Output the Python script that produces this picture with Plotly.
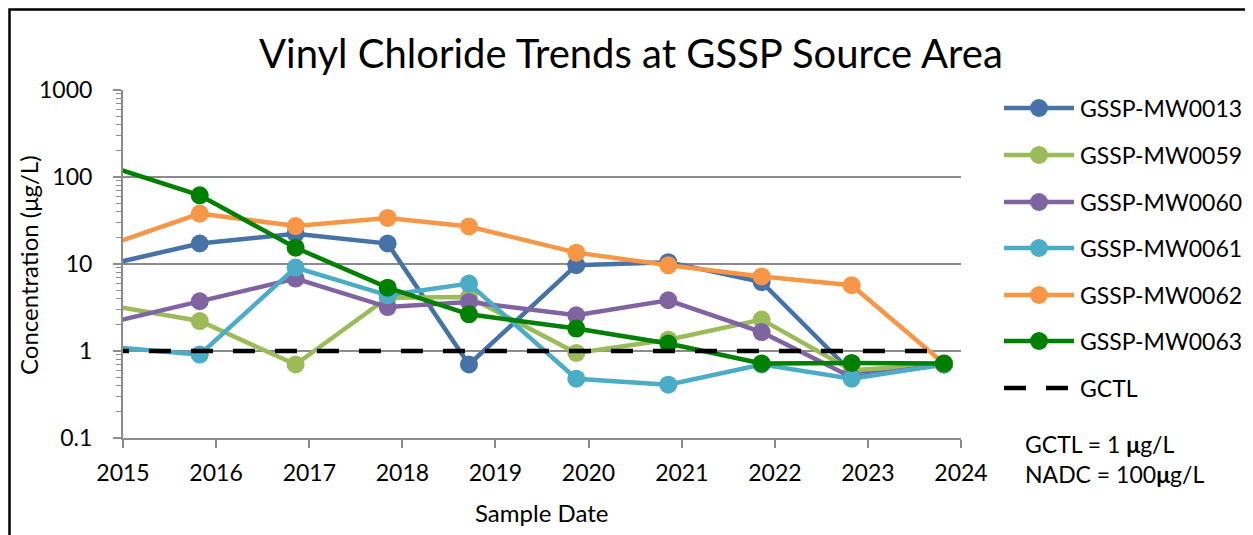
import plotly.graph_objects as go

# ---------------- data ----------------
sample_dates = ["2014-10-30", "2015-10-29", "2016-11-08", "2017-11-04", "2018-09-19",
                "2019-11-14", "2020-11-09", "2021-11-10", "2022-10-29", "2023-10-26"]

mw0013 = [9.8, 17.2, 22.3, 17.2, 0.70, 9.7, 10.5, 6.2, 0.57, 0.70]
mw0059 = [3.39, 2.21, 0.70, 4.1, 4.17, 0.95, 1.35, 2.3, 0.60, 0.70]
mw0060 = [2.08, 3.73, 6.8, 3.2, 3.66, 2.57, 3.83, 1.65, 0.50, 0.70]
mw0061 = [1.12, 0.91, 9.1, 4.37, 5.95, 0.48, 0.41, 0.70, 0.48, 0.70]
mw0062 = [16.2, 38.0, 27.3, 33.8, 27.0, 13.5, 9.66, 7.2, 5.7, 0.72]
mw0063 = [136.0, 61.5, 15.4, 5.35, 2.64, 1.81, 1.22, 0.72, 0.73, 0.72]
gctl = [1, 1, 1, 1, 1, 1, 1, 1, 1, 1]

series_names = ["GSSP-MW0013", "GSSP-MW0059", "GSSP-MW0060",
                "GSSP-MW0061", "GSSP-MW0062", "GSSP-MW0063"]
series_values = [mw0013, mw0059, mw0060, mw0061, mw0062, mw0063]
series_colors = ["#4672A8", "#9BBB59", "#8064A2", "#4BACC6", "#F79646", "#008000"]

y_tickvals = [0.1, 1, 10, 100, 1000]
y_ticktext = ["0.1", "1", "10", "100", "1000"]
x_tickvals = ["2015-01-01", "2016-01-01", "2017-01-01", "2018-01-01", "2019-01-01",
              "2020-01-01", "2021-01-01", "2022-01-01", "2023-01-01", "2024-01-01"]
x_ticktext = ["2015", "2016", "2017", "2018", "2019", "2020", "2021", "2022", "2023", "2024"]

FONT = "Lato"
OFF = 8                      # page body margin of the browser
W, H = 1253 - OFF, 535 - OFF
PL, PR, PT, PB = 123, 961, 90, 438   # plot area in screen px

def px(x):
    return (x - PL) / (PR - PL)

def py(y):
    return (PB - y) / (PB - PT)

fig = go.Figure()
for name, vals, col in zip(series_names, series_values, series_colors):
    fig.add_trace(go.Scatter(
        x=sample_dates, y=vals, name=name, mode="lines+markers",
        line=dict(color=col, width=4.5),
        marker=dict(color=col, size=18),
        showlegend=False, cliponaxis=True))

fig.add_trace(go.Scatter(
    x=sample_dates, y=gctl, name="GCTL", mode="lines",
    line=dict(color="black", width=4.5, dash="22px,20px"),
    showlegend=False))

# ---------- custom legend ----------
shapes = []
annotations = []
LEG_FS = 23
legend_y = [108, 155, 202, 248, 295, 341, 388]
for i, (name, col) in enumerate(zip(series_names, series_colors)):
    yy = py(legend_y[i])
    shapes.append(dict(type="line", xref="paper", yref="paper",
                       x0=px(1004), x1=px(1074), y0=yy, y1=yy,
                       line=dict(color=col, width=4.5)))
    shapes.append(dict(type="circle", xref="paper", yref="paper",
                       x0=px(1030), x1=px(1048), y0=py(legend_y[i] + 9), y1=py(legend_y[i] - 9),
                       fillcolor=col, line=dict(color=col, width=0)))
    annotations.append(dict(text=name, xref="paper", yref="paper", x=px(1078), y=yy,
                            xanchor="left", yanchor="middle", showarrow=False,
                            font=dict(family=FONT, size=LEG_FS, color="black")))
yy = py(legend_y[6])
shapes.append(dict(type="line", xref="paper", yref="paper",
                   x0=px(1004), x1=px(1074), y0=yy, y1=yy,
                   line=dict(color="black", width=4.5, dash="22px,20px")))
annotations.append(dict(text="GCTL", xref="paper", yref="paper", x=px(1078), y=yy,
                        xanchor="left", yanchor="middle", showarrow=False,
                        font=dict(family=FONT, size=LEG_FS, color="black")))

# notes
annotations.append(dict(text="GCTL = 1 <b>μ</b>g/L<br>NADC = 100<b>μ</b>g/L",
                        xref="paper", yref="paper", x=px(1023), y=py(459),
                        xanchor="left", yanchor="middle", align="left", showarrow=False,
                        font=dict(family=FONT, size=23, color="black")))
# title
annotations.append(dict(text="Vinyl Chloride Trends at GSSP Source Area",
                        xref="paper", yref="paper", x=px(631), y=py(53),
                        xanchor="center", yanchor="middle", showarrow=False,
                        font=dict(family=FONT, size=40, color="black")))
# axis titles
annotations.append(dict(text="Sample Date", xref="paper", yref="paper", x=px(541), y=py(512),
                        xanchor="center", yanchor="middle", showarrow=False,
                        font=dict(family=FONT, size=24, color="black")))
annotations.append(dict(text="Concentration (μg/L)", xref="paper", yref="paper",
                        x=px(28), y=py(265), textangle=-90,
                        xanchor="center", yanchor="middle", showarrow=False,
                        font=dict(family=FONT, size=24, color="black")))

# outer frame (left and top edges visible)
shapes.append(dict(type="rect", xref="paper", yref="paper",
                   x0=px(9.5), x1=px(1300), y0=py(600), y1=py(9.5),
                   line=dict(color="black", width=2.5), fillcolor="rgba(0,0,0,0)", layer="above"))

fig.update_layout(
    width=W, height=H, autosize=False,
    margin=dict(l=PL - OFF, r=W - (PR - OFF), t=PT - OFF, b=H - (PB - OFF), pad=0),
    paper_bgcolor="white", plot_bgcolor="white",
    font=dict(family=FONT, size=23, color="black"),
    shapes=shapes, annotations=annotations, showlegend=False,
)
fig.update_xaxes(
    type="date", range=["2015-01-01", "2024-01-01"],
    tickvals=x_tickvals, ticktext=x_ticktext,
    ticks="outside", ticklen=8, tickwidth=1.5, tickcolor="#8c8c8c",
    showline=True, linecolor="#8c8c8c", linewidth=2,
    showgrid=False, zeroline=False, ticklabelstandoff=5,
    tickfont=dict(family=FONT, size=23, color="black"))
fig.update_yaxes(
    type="log", range=[-1, 3],
    tickvals=y_tickvals, ticktext=y_ticktext,
    ticks="outside", ticklen=8, tickwidth=1.5, tickcolor="#8c8c8c",
    minor=dict(ticks="outside", ticklen=5, tickwidth=1, tickcolor="#8c8c8c",
               dtick="D1", showgrid=False),
    showline=True, linecolor="#8c8c8c", linewidth=2,
    showgrid=True, gridcolor="#8c8c8c", gridwidth=1.5, zeroline=False,
    ticklabelstandoff=16,
    tickfont=dict(family=FONT, size=23, color="black"))

fig.write_html("out.html")
